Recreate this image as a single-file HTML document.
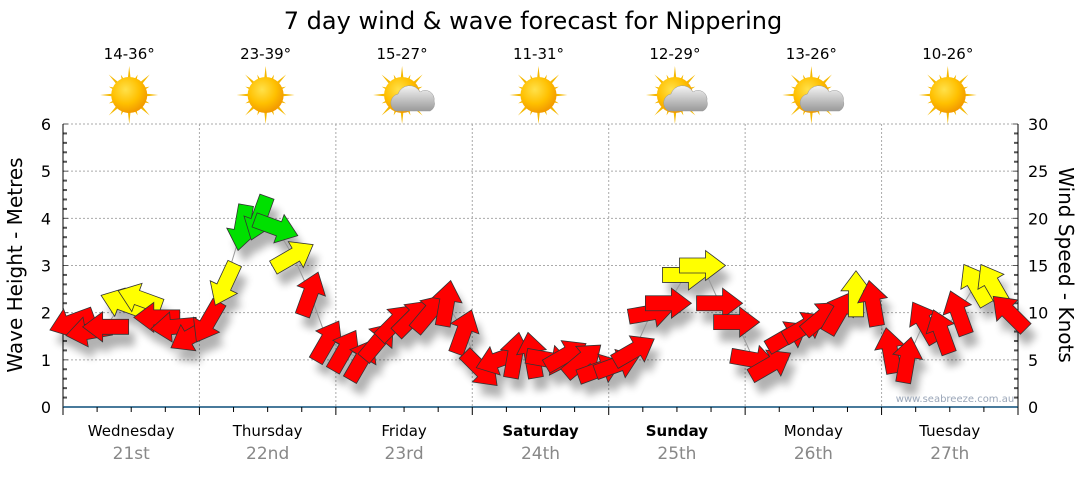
<!DOCTYPE html>
<html><head><meta charset="utf-8">
<style>
body{margin:0;background:#fff;font-family:"Liberation Sans","DejaVu Sans",sans-serif;}
svg text{font-family:"DejaVu Sans","Liberation Sans",sans-serif;}
</style></head>
<body>
<svg id="chart" width="1080" height="475" viewBox="0 0 1080 475">
<defs>
<radialGradient id="sunG" cx="40%" cy="35%" r="65%"><stop offset="0" stop-color="#ffe14a"/><stop offset="0.6" stop-color="#ffc000"/><stop offset="1" stop-color="#f29a00"/></radialGradient>
<linearGradient id="cloudG" x1="0" y1="0" x2="0" y2="1"><stop offset="0" stop-color="#f4f4f4"/><stop offset="1" stop-color="#9a9a9a"/></linearGradient>
<filter id="shadow" x="-50%" y="-50%" width="200%" height="200%"><feGaussianBlur stdDeviation="4"/></filter>
</defs>
<text x="533" y="29" font-size="24" text-anchor="middle">7 day wind &amp; wave forecast for Nippering</text>
<g id="grid"></g>
<g id="axes"></g>
<g id="header"></g>
<g id="shadows" filter="url(#shadow)" opacity="0.3"></g>
<g id="arrows"></g>
<text x="955" y="402" font-size="10" fill="#9aa6b8" text-anchor="middle">www.seabreeze.com.au</text>
<text transform="translate(22,265) rotate(-90)" font-size="20" text-anchor="middle">Wave Height - Metres</text>
<text transform="translate(1059,265) rotate(90)" font-size="20" text-anchor="middle">Wind Speed - Knots</text>
</svg>
<script>
const days=["Wednesday","Thursday","Friday","Saturday","Sunday","Monday","Tuesday"];
const dates=["21st","22nd","23rd","24th","25th","26th","27th"];
const temps=["14-36°","23-39°","15-27°","11-31°","12-29°","13-26°","10-26°"];
const cloudy=[0,0,1,0,1,1,0];
const waveTicks=[0,1,2,3,4,5,6];
const windTicks=[0,5,10,15,20,25,30];
const windSpeed=[9,8,8.5,11,11.5,9.5,8.5,7.5, 9,13,19,20,19,16,12,7, 6,5,7,9,9.5,10,11,8, 4,5,5.5,5.5,5,5.5,5,4, 4.5,6,10,11,14,15,11,9, 5,4.5,7.5,8.5,9.5,10,12,11, 6,5,9,8,10,13,13,10];
const windDir=[160,170,180,200,200,180,175,150, 120,115,100,110,20,-30,-70,-60, -60,-60,-50,-45,-45,-50,-80,-70, 45,160,-80,-100,10,-30,-40,-20, -20,-30,-10,0,0,0,0,0, 10,-30,-30,-30,-40,-60,-90,-100, -100,-80,-120,-110,-110,-120,-120,-135];
const windCol=["r","r","r","y","y","r","r","r", "r","y","g","g","g","y","r","r", "r","r","r","r","r","r","r","r", "r","r","r","r","r","r","r","r", "r","r","r","r","y","y","r","r", "r","r","r","r","r","r","y","r", "r","r","r","r","r","y","y","r"];
const X0=63,X1=1018,Y0=407,Y1=124;
const dayW=(X1-X0)/7;
const xT=h=>X0+h/168*(X1-X0);
const yW=m=>Y0-m/6*(Y0-Y1);
const yK=k=>Y0-k/30*(Y0-Y1);
const NS="http://www.w3.org/2000/svg";
function mk(t,a,p){const e=document.createElementNS(NS,t);for(const k in a)e.setAttribute(k,a[k]);(p||document.getElementById('chart')).appendChild(e);return e;}
const grid=document.getElementById('grid'),axes=document.getElementById('axes'),header=document.getElementById('header');
waveTicks.forEach(v=>{if(v>0){const l=mk('line',{x1:X0,x2:X1,y1:yW(v),y2:yW(v),stroke:'#aaa','stroke-dasharray':'2,2'},grid);}
const t=mk('text',{x:X0-12,y:yW(v)+6,'font-size':16,'text-anchor':'end'},axes);t.textContent=v;});
windTicks.forEach(v=>{const t=mk('text',{x:X1+10,y:yK(v)+6,'font-size':16},axes);t.textContent=v;});
for(let i=0;i<=30;i++){const y=Y0-i*(Y0-Y1)/30;const big=i%5==0;
mk('line',{x1:X0,x2:X0+(big?5:4),y1:y,y2:y,stroke:'#555','stroke-width':big?1:2},axes);
mk('line',{x1:X1,x2:X1-(big?5:4),y1:y,y2:y,stroke:'#555','stroke-width':big?1:2},axes);}
mk('line',{x1:X0,x2:X0,y1:Y1,y2:Y0+8,stroke:'#000'},axes);
mk('line',{x1:X1,x2:X1,y1:Y1,y2:Y0+8,stroke:'#000'},axes);
mk('line',{x1:X0,x2:X1,y1:Y0,y2:Y0,stroke:'#0b4f7a','stroke-width':1.5},axes);
for(let i=0;i<=28;i++){const x=X0+i*dayW/4;mk('line',{x1:x,x2:x,y1:Y0,y2:Y0+(i%4==0?8:5),stroke:'#000'},axes);}
days.forEach((d,i)=>{const cx=X0+dayW*(i+0.5);
if(i>0){const l=mk('line',{x1:X0+dayW*i,x2:X0+dayW*i,y1:Y1,y2:Y0,stroke:'#aaa','stroke-dasharray':'2,2'},grid);}
const t=mk('text',{x:cx,y:436,'font-size':15,'text-anchor':'middle','font-weight':(i==3||i==4)?'bold':'normal'},axes);t.textContent=d;
const t2=mk('text',{x:cx,y:459,'font-size':17,'text-anchor':'middle',fill:'#888'},axes);t2.textContent=dates[i];
const t3=mk('text',{x:cx-2,y:59,'font-size':15,'text-anchor':'middle'},header);t3.textContent=temps[i];
const g=mk('g',{transform:`translate(${cx-2},95)`},header);
for(let r=0;r<16;r++){const a=r*Math.PI/8,L=r%2?22:29;mk('polygon',{points:`${Math.cos(a-0.12)*14},${Math.sin(a-0.12)*14} ${Math.cos(a)*L},${Math.sin(a)*L} ${Math.cos(a+0.12)*14},${Math.sin(a+0.12)*14}`,fill:'#f5b800'},g);}
mk('circle',{r:18,fill:'url(#sunG)'},g);
if(cloudy[i]){mk('path',{d:'M-6,16 a9,9 0 0 1 2,-17 a12,12 0 0 1 22,-2 a9,9 0 0 1 14,9 a8,8 0 0 1 -4,10 z',fill:'url(#cloudG)',stroke:'#999','stroke-width':0.5},g);}
});
const cols={r:'#ff0000',y:'#ffff00',g:'#00e000'};
const sh=document.getElementById('shadows'),ar=document.getElementById('arrows');
const pts=windSpeed.map((s,i)=>[xT(i*3+1.5),yK(s)]);
const line=mk('polyline',{points:pts.map(p=>p.join(',')).join(' '),fill:'none',stroke:'#999','stroke-width':1},ar);

const shape='-23,-7.5 3,-7.5 3,-15 23,0 3,15 3,7.5 -23,7.5';
windSpeed.forEach((s,i)=>{const [x,y]=pts[i];
mk('polygon',{points:shape,transform:`translate(${x+6},${y+12}) rotate(${windDir[i]})`,fill:'#000'},sh);
const p=mk('polygon',{points:shape,transform:`translate(${x},${y}) rotate(${windDir[i]})`,fill:cols[windCol[i]],stroke:'#333','stroke-width':0.8},ar);

});
</script>
</body></html>
